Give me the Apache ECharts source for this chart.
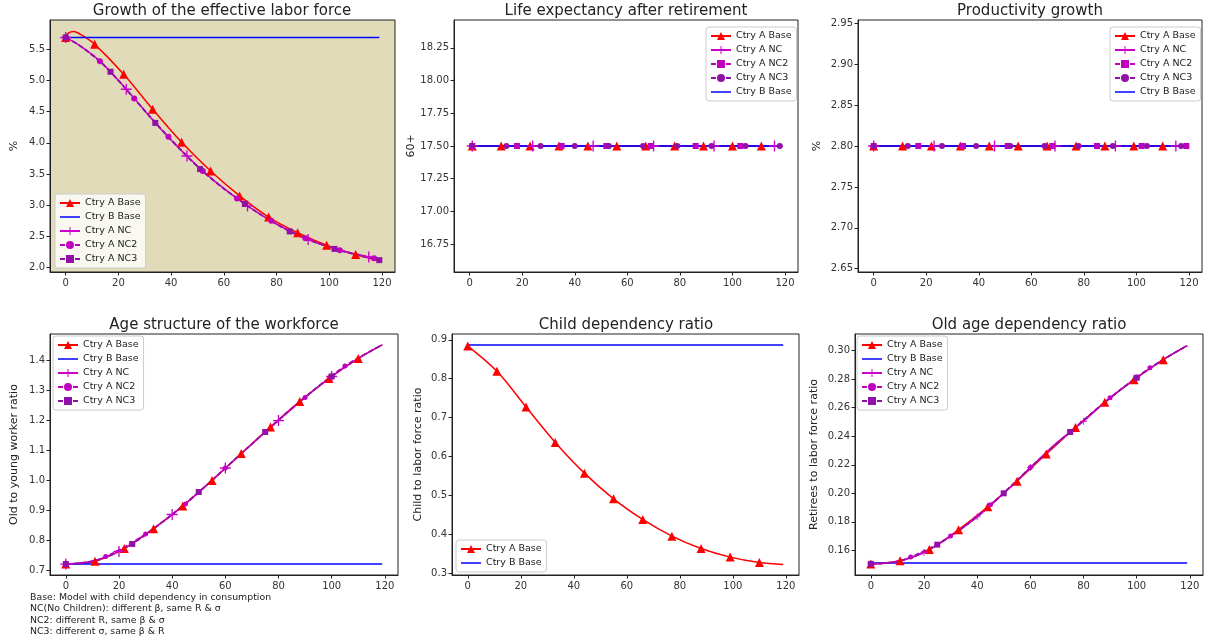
<!DOCTYPE html>
<html><head><meta charset="utf-8">
<script src="https://cdn.jsdelivr.net/npm/echarts@6/dist/echarts.min.js"></script>
<style>html,body{margin:0;padding:0;background:#fff}#c{width:1208px;height:644px}</style>
</head><body><div id="c"></div>
<script>
// ---------- data ----------
const xTicks = [0, 20, 40, 60, 80, 100, 120];
const seriesNames = ['Ctry A Base', 'Ctry B Base', 'Ctry A NC', 'Ctry A NC2', 'Ctry A NC3'];
const titles = ['Growth of the effective labor force', 'Life expectancy after retirement', 'Productivity growth',
  'Age structure of the workforce', 'Child dependency ratio', 'Old age dependency ratio'];
const yNames = ['%', '60+', '%', 'Old to young worker ratio', 'Child to labor force ratio', 'Retirees to labor force ratio'];
const footnote = ['Base: Model with child dependency in consumption',
  'NC(No Children): different \u03b2, same R & \u03c3',
  'NC2: different R, same \u03b2 & \u03c3',
  'NC3: different \u03c3, same \u03b2 & R'];

// Panel 1: growth of effective labor force (%)
const p1YTicks = [2.0, 2.5, 3.0, 3.5, 4.0, 4.5, 5.0, 5.5];
const p1A = [[0,5.69],[1,5.76],[3,5.785],[6,5.73],[11,5.58],[22,5.10],[33,4.54],[44,4.01],[55,3.55],[66,3.15],[77,2.81],[88,2.56],[99,2.36],[110,2.21],[119,2.11]];
const p1B = [[0,5.69],[119,5.69]];
const p1NC = [[0,5.69],[6,5.54],[13,5.31],[23,4.86],[34,4.32],[46,3.79],[57,3.37],[69,2.99],[80,2.70],[92,2.45],[104,2.28],[115,2.17],[119,2.12]];
const p1NC2 = [[0,5.69],[6,5.54],[13,5.31],[26,4.71],[39,4.10],[52,3.55],[65,3.11],[78,2.75],[91,2.47],[104,2.28],[117,2.15],[119,2.12]];
const p1NC3 = [[0,5.69],[6,5.54],[17,5.14],[34,4.32],[51,3.58],[68,3.02],[85,2.58],[102,2.30],[119,2.12]];
const p1AMarks = [0,11,22,33,44,55,66,77,88,99,110];
const p1NCMarks = [0,23,46,69,92,115];
const p1NC2Marks = [0,13,26,39,52,65,78,91,104,117];
const p1NC3Marks = [0,17,34,51,68,85,102,119];

// Panel 2: life expectancy after retirement (constant)
const p2YTicks = [16.75, 17.00, 17.25, 17.50, 17.75, 18.00, 18.25];
const p2Level = 17.5;
const p2AMarks = [1,12,23,34,45,56,67,78,89,100,111];
const p2NCMarks = [1,24,47,70,93,116];
const p2NC2Marks = [1,18,35,52,69,86,103];
const p2NC3Marks = [1,14,27,40,53,66,79,92,105,118];

// Panel 3: productivity growth (constant)
const p3YTicks = [2.65, 2.70, 2.75, 2.80, 2.85, 2.90, 2.95];
const p3Level = 2.80;
const p3AMarks = [0,11,22,33,44,55,66,77,88,99,110];
const p3NCMarks = [0,23,46,69,92,115];
const p3NC2Marks = [0,17,34,51,68,85,102,119];
const p3NC3Marks = [0,13,26,39,52,65,78,91,104,117];

// Panel 4: age structure of the workforce
const p4YTicks = [0.7, 0.8, 0.9, 1.0, 1.1, 1.2, 1.3, 1.4];
const p4A = [[0,0.72],[11,0.729],[22,0.772],[33,0.838],[44,0.913],[55,0.998],[66,1.088],[77,1.177],[88,1.262],[99,1.338],[110,1.405],[119,1.45]];
const p4B = [[0,0.72],[119,0.72]];
const p4NC = [[0,0.72],[10,0.73],[20,0.762],[30,0.82],[40,0.885],[50,0.96],[60,1.04],[70,1.12],[80,1.198],[90,1.275],[100,1.345],[110,1.405],[119,1.45]];
const p4NC2 = [[0,0.72],[8,0.726],[15,0.745],[30,0.82],[45,0.92],[60,1.04],[75,1.16],[90,1.275],[105,1.38],[119,1.45]];
const p4NC3 = [[0,0.72],[12,0.733],[25,0.787],[38,0.872],[50,0.96],[62,1.056],[75,1.16],[88,1.262],[100,1.345],[110,1.405],[119,1.45]];
const p4AMarks = [0,11,22,33,44,55,66,77,88,99,110];
const p4NCMarks = [0,20,40,60,80,100];
const p4NC2Marks = [0,15,30,45,60,75,90,105];
const p4NC3Marks = [0,25,50,75,100];

// Panel 5: child dependency ratio
const p5YTicks = [0.3, 0.4, 0.5, 0.6, 0.7, 0.8, 0.9];
const p5A = [[0,0.884],[11,0.819],[22,0.727],[33,0.636],[44,0.557],[55,0.491],[66,0.438],[77,0.395],[88,0.363],[99,0.341],[110,0.327],[119,0.322]];
const p5B = [[0,0.887],[119,0.887]];
const p5AMarks = [0,11,22,33,44,55,66,77,88,99,110];

// Panel 6: old age dependency ratio
const p6YTicks = [0.16, 0.18, 0.20, 0.22, 0.24, 0.26, 0.28, 0.30];
const p6A = [[0,0.1505],[11,0.1527],[22,0.1605],[33,0.1745],[44,0.1905],[55,0.2085],[66,0.2275],[77,0.2462],[88,0.2638],[99,0.2797],[110,0.2937],[119,0.3035]];
const p6B = [[0,0.1511],[119,0.1511]];
const p6NC = [[0,0.1505],[10,0.1523],[20,0.1585],[30,0.170],[40,0.1835],[50,0.200],[60,0.218],[70,0.2355],[80,0.2505],[90,0.267],[100,0.281],[110,0.2937],[119,0.3035]];
const p6NC2 = [[0,0.1505],[8,0.1515],[15,0.1553],[30,0.170],[45,0.192],[60,0.218],[75,0.243],[90,0.267],[105,0.288],[119,0.3035]];
const p6NC3 = [[0,0.1505],[12,0.153],[25,0.164],[38,0.1805],[50,0.200],[62,0.2215],[75,0.243],[88,0.2638],[100,0.281],[110,0.2937],[119,0.3035]];
const p6AMarks = [0,11,22,33,44,55,66,77,88,99,110];
const p6NCMarks = [0,20,40,60,80,100];
const p6NC2Marks = [0,15,30,45,60,75,90,105];
const p6NC3Marks = [0,25,50,75,100];

// ---------- layout / style ----------
const FONT = 'DejaVu Sans';
const C = { A: '#ff0000', B: '#0000ff', NC: '#cc00cc', NC2: '#c000c0', NC3: '#9010a8' };
const PLUS = 'path://M4.4,0H5.6V4.4H10V5.6H5.6V10H4.4V5.6H0V4.4H4.4Z';
const HLINE = 'path://M0,0H20V1.5H0Z';

const grids = [
  { left: 50, top: 20, width: 345, height: 252 },
  { left: 454, top: 20, width: 344, height: 252 },
  { left: 858, top: 20, width: 344, height: 252 },
  { left: 50, top: 334, width: 348, height: 241 },
  { left: 452, top: 334, width: 347, height: 241 },
  { left: 855, top: 334, width: 348, height: 241 }
];
const yRanges = [[1.93, 5.97], [16.5375, 18.4625], [2.646, 2.954], [0.6835, 1.4865], [0.295, 0.915], [0.1427, 0.3117]];
const yTicksAll = [p1YTicks, p2YTicks, p3YTicks, p4YTicks, p5YTicks, p6YTicks];
const yDec = [1, 2, 2, 1, 1, 2];
const nameGaps = [30, 33, 35, 30, 28, 35];

function pts(points, marks) {
  return points.map(([x, y]) => marks.indexOf(x) >= 0 ? [x, y] : { value: [x, y], symbol: 'none' });
}
function flat(level, marks, x0, x1) {
  const xs = Array.from(new Set([x0, ...marks, x1])).sort((a, b) => a - b);
  return xs.map(x => [x, level]);
}
function line(panel, key, data, opt) {
  return Object.assign({
    type: 'line', name: seriesNames[{A:0,B:1,NC:2,NC2:3,NC3:4}[key]] + '|' + panel,
    xAxisIndex: panel, yAxisIndex: panel, data: data,
    smooth: 0.35, showSymbol: true, showAllSymbol: true, animation: false,
    symbol: 'none', symbolSize: 6,
    lineStyle: { color: C[key], width: 1.5 },
    itemStyle: { color: C[key] },
    emphasis: { disabled: true }, silent: true
  }, opt);
}
const DASH = { type: [5, 2.5] };
const series = [];
// panel 1
series.push(line(0, 'A', pts(p1A, p1AMarks), { symbol: 'triangle', symbolSize: 9 }));
series.push(line(0, 'B', p1B, {}));
series.push(line(0, 'NC', pts(p1NC, p1NCMarks), { symbol: PLUS, symbolSize: 11 }));
series.push(line(0, 'NC2', pts(p1NC2, p1NC2Marks), { symbol: 'circle', symbolSize: 6, lineStyle: Object.assign({ color: C.NC2, width: 1.5 }, DASH) }));
series.push(line(0, 'NC3', pts(p1NC3, p1NC3Marks), { symbol: 'rect', symbolSize: 6, lineStyle: Object.assign({ color: C.NC3, width: 1.5 }, DASH) }));
// panel 2
series.push(line(1, 'A', pts(flat(p2Level, p2AMarks, 1, 119), p2AMarks), { symbol: 'triangle', symbolSize: 9 }));
series.push(line(1, 'NC', pts(flat(p2Level, p2NCMarks, 1, 119), p2NCMarks), { symbol: PLUS, symbolSize: 11 }));
series.push(line(1, 'NC2', pts(flat(p2Level, p2NC2Marks, 1, 119), p2NC2Marks), { symbol: 'rect', symbolSize: 6, lineStyle: Object.assign({ color: C.NC2, width: 1.5 }, DASH) }));
series.push(line(1, 'NC3', pts(flat(p2Level, p2NC3Marks, 1, 119), p2NC3Marks), { symbol: 'circle', symbolSize: 6, lineStyle: Object.assign({ color: C.NC3, width: 1.5 }, DASH) }));
series.push(line(1, 'B', flat(p2Level, [], 0, 119), {}));
// panel 3
series.push(line(2, 'A', pts(flat(p3Level, p3AMarks, 0, 119), p3AMarks), { symbol: 'triangle', symbolSize: 9 }));
series.push(line(2, 'NC', pts(flat(p3Level, p3NCMarks, 0, 119), p3NCMarks), { symbol: PLUS, symbolSize: 11 }));
series.push(line(2, 'NC2', pts(flat(p3Level, p3NC2Marks, 0, 119), p3NC2Marks), { symbol: 'rect', symbolSize: 6, lineStyle: Object.assign({ color: C.NC2, width: 1.5 }, DASH) }));
series.push(line(2, 'NC3', pts(flat(p3Level, p3NC3Marks, 0, 119), p3NC3Marks), { symbol: 'circle', symbolSize: 6, lineStyle: Object.assign({ color: C.NC3, width: 1.5 }, DASH) }));
series.push(line(2, 'B', flat(p3Level, [], 0, 119), {}));
// panel 4
series.push(line(3, 'A', pts(p4A, p4AMarks), { symbol: 'triangle', symbolSize: 9 }));
series.push(line(3, 'B', p4B, {}));
series.push(line(3, 'NC', pts(p4NC, p4NCMarks), { symbol: PLUS, symbolSize: 11 }));
series.push(line(3, 'NC2', pts(p4NC2, p4NC2Marks), { symbol: 'circle', symbolSize: 5, lineStyle: Object.assign({ color: C.NC2, width: 1.5 }, DASH) }));
series.push(line(3, 'NC3', pts(p4NC3, p4NC3Marks), { symbol: 'rect', symbolSize: 6, lineStyle: Object.assign({ color: C.NC3, width: 1.5 }, DASH) }));
// panel 5
series.push(line(4, 'A', pts(p5A, p5AMarks), { symbol: 'triangle', symbolSize: 9 }));
series.push(line(4, 'B', p5B, {}));
// panel 6
series.push(line(5, 'A', pts(p6A, p6AMarks), { symbol: 'triangle', symbolSize: 9 }));
series.push(line(5, 'B', p6B, {}));
series.push(line(5, 'NC', pts(p6NC, p6NCMarks), { symbol: PLUS, symbolSize: 7 }));
series.push(line(5, 'NC2', pts(p6NC2, p6NC2Marks), { symbol: 'circle', symbolSize: 5, lineStyle: Object.assign({ color: C.NC2, width: 1.5 }, DASH) }));
series.push(line(5, 'NC3', pts(p6NC3, p6NC3Marks), { symbol: 'rect', symbolSize: 6, lineStyle: Object.assign({ color: C.NC3, width: 1.5 }, DASH) }));

const legendOrders = [
  ['A', 'B', 'NC', 'NC2', 'NC3'],
  ['A', 'NC', 'NC2', 'NC3', 'B'],
  ['A', 'NC', 'NC2', 'NC3', 'B'],
  ['A', 'B', 'NC', 'NC2', 'NC3'],
  ['A', 'B'],
  ['A', 'B', 'NC', 'NC2', 'NC3']
];
const legendPos = [[55, 194], [706, 27], [1110, 27], [53, 336], [456, 540], [857, 336]];
const keyIdx = { A: 0, B: 1, NC: 2, NC2: 3, NC3: 4 };
const legends = legendOrders.map((ord, p) => ({
  orient: 'vertical', left: legendPos[p][0], top: legendPos[p][1],
  data: ord.map(k => k === 'B' ? { name: seriesNames[1] + '|' + p, icon: HLINE } : { name: seriesNames[keyIdx[k]] + '|' + p }),
  formatter: n => n.split('|')[0],
  itemWidth: 20, itemHeight: 10, itemGap: 2, padding: [3, 5, 3, 4],
  backgroundColor: 'rgba(255,255,255,0.8)', borderColor: '#cccccc', borderWidth: 1, borderRadius: 3,
  selectedMode: false,
  textStyle: { fontSize: 9.5, lineHeight: 12, color: '#222', fontFamily: FONT }
}));

const xAxes = grids.map((g, i) => ({
  type: 'value', gridIndex: i, min: -5.95, max: 124.95,
  axisLine: { show: true, onZero: false, lineStyle: { color: '#222', width: 1 } },
  axisTick: { show: true, length: 3.5, lineStyle: { color: '#222' }, customValues: xTicks },
  axisLabel: { customValues: xTicks, fontSize: 10, color: '#333', fontFamily: FONT, margin: 6 },
  splitLine: { show: false }
}));
const yAxes = grids.map((g, i) => ({
  type: 'value', gridIndex: i, min: yRanges[i][0], max: yRanges[i][1],
  name: yNames[i], nameLocation: 'middle', nameGap: nameGaps[i],
  nameTextStyle: { fontSize: 11, color: '#222', fontFamily: FONT },
  axisLine: { show: true, onZero: false, lineStyle: { color: '#222', width: 1 } },
  axisTick: { show: true, length: 3.5, lineStyle: { color: '#222' }, customValues: yTicksAll[i] },
  axisLabel: { customValues: yTicksAll[i], fontSize: 10, color: '#333', fontFamily: FONT, margin: 5,
    formatter: v => Number(v).toFixed(yDec[i]) },
  splitLine: { show: false }
}));

const titlePos = [[222, 11], [626, 11], [1030, 11], [224, 325], [626, 325], [1029, 325]];
const graphics = titles.map((t, i) => ({
  type: 'text', x: titlePos[i][0], y: titlePos[i][1], silent: true,
  style: { text: t, fill: '#222', font: '15px "' + FONT + '"', align: 'center', verticalAlign: 'middle', textAlign: 'center', textVerticalAlign: 'middle' }
}));
graphics.push({
  type: 'text', x: 30, y: 592, silent: true,
  style: { text: footnote.join('\n'), fill: '#222', font: '9.4px "' + FONT + '"', lineHeight: 11.3 }
});

const chart = echarts.init(document.getElementById('c'), null, { renderer: 'canvas' });
chart.setOption({
  animation: false,
  backgroundColor: '#ffffff',
  grid: grids.map((g, i) => Object.assign({ show: true, borderColor: '#222', borderWidth: 1,
    backgroundColor: i === 0 ? '#e1dbb9' : 'transparent', containLabel: false }, g)),
  xAxis: xAxes, yAxis: yAxes, legend: legends, series: series, graphic: graphics
});
</script></body></html>
